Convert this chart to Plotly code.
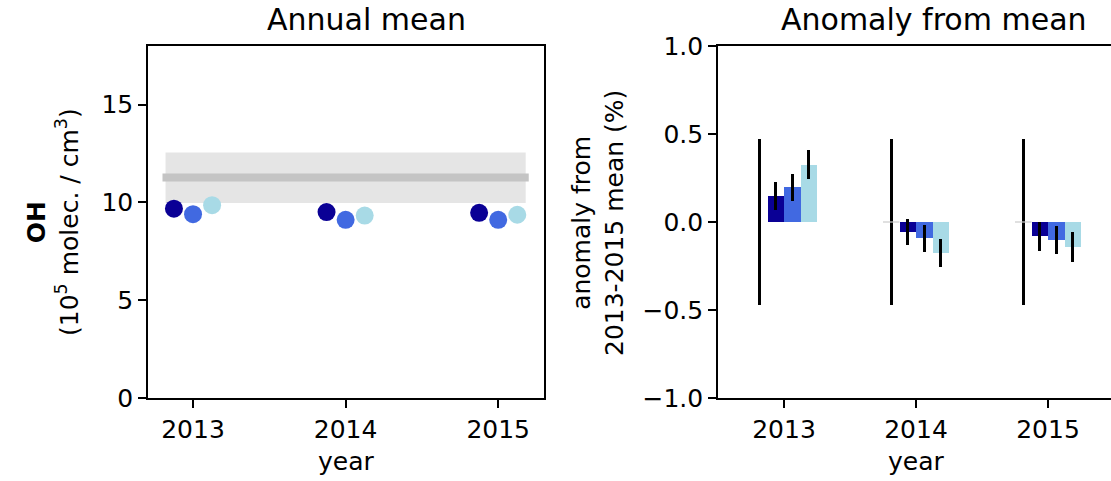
import plotly.graph_objects as go

# ---- data ----
years = [2013, 2014, 2015]
series_names = ["model A", "model B", "model C"]
series_colors = ["#0a0095", "#4169E1", "#A8DAE6"]

# annual mean OH (1e5 molec / cm3)
oh_a = [9.68, 9.51, 9.47]
oh_b = [9.40, 9.11, 9.11]
oh_c = [9.86, 9.33, 9.37]
oh_values = [oh_a, oh_b, oh_c]

# reference mean and its range
ref_mean = 11.28
ref_low = 9.97
ref_high = 12.56

# anomalies (%) and uncertainties
anom_a = [0.149, -0.059, -0.082]
anom_b = [0.197, -0.093, -0.100]
anom_c = [0.326, -0.176, -0.142]
anom_values = [anom_a, anom_b, anom_c]
err_a = [0.078, 0.074, 0.080]
err_b = [0.075, 0.076, 0.080]
err_c = [0.082, 0.082, 0.088]
err_values = [err_a, err_b, err_c]
mean_uncert = [0.47, 0.47, 0.47]
mean_anom = [0.0, 0.0, 0.0]

W, H = 1111, 481
FONT = "DejaVu Sans"

def px(x):
    return x / W

def py(y):
    return 1 - y / H

fig = go.Figure()

# ---- left panel ----
dot_offsets = [-0.125, 0.0, 0.125]
span = [years[0] - 0.18, years[-1] + 0.18]
line_span = [years[0] - 0.2, years[-1] + 0.2]
fig.add_trace(go.Scatter(x=span, y=[ref_low, ref_low], mode="lines",
                         line=dict(width=0, color="rgba(0,0,0,0)"),
                         showlegend=False, xaxis="x", yaxis="y", hoverinfo="skip"))
fig.add_trace(go.Scatter(x=span, y=[ref_high, ref_high], mode="lines",
                         line=dict(width=0, color="rgba(0,0,0,0)"),
                         fill="tonexty", fillcolor="#e5e5e5",
                         showlegend=False, xaxis="x", yaxis="y", hoverinfo="skip"))
fig.add_trace(go.Scatter(x=line_span, y=[ref_mean, ref_mean], mode="lines",
                         line=dict(width=8, color="#c4c4c4"),
                         showlegend=False, xaxis="x", yaxis="y"))
for vals, off, col, name in zip(oh_values, dot_offsets, series_colors, series_names):
    fig.add_trace(go.Scatter(x=[y + off for y in years], y=vals, mode="markers",
                             marker=dict(size=18, color=col, line=dict(width=0)),
                             name=name, showlegend=False, xaxis="x", yaxis="y"))

# ---- right panel ----
bw = 0.125
bar_offsets = [-0.0625, 0.0625, 0.1875]
mean_off = -0.1875
# zero-height mean bars drawn as thin gray lines (2014, 2015)
for yr in years[1:]:
    fig.add_trace(go.Scatter(x=[yr + mean_off - bw / 2, yr + mean_off + bw / 2],
                             y=[0, 0], mode="lines",
                             line=dict(width=1.2, color="#cccccc"),
                             showlegend=False, xaxis="x2", yaxis="y2"))
fig.add_trace(go.Bar(x=[y + mean_off for y in years], y=mean_anom, width=bw,
                     marker=dict(color="#cccccc", line=dict(width=0)),
                     error_y=dict(type="data", array=mean_uncert, visible=True,
                                  thickness=3.4, width=0, color="black"),
                     showlegend=False, xaxis="x2", yaxis="y2"))
for vals, errs, off, col, name in zip(anom_values, err_values, bar_offsets,
                                      series_colors, series_names):
    fig.add_trace(go.Bar(x=[y + off for y in years], y=vals, width=bw,
                         marker=dict(color=col, line=dict(width=0)),
                         error_y=dict(type="data", array=errs, visible=True,
                                      thickness=3.4, width=0, color="black"),
                         name=name, showlegend=False, xaxis="x2", yaxis="y2"))

# ---- layout ----
ydom = [py(398), py(46)]
axis_common = dict(showline=True, linecolor="black", linewidth=1.6,
                   ticks="outside", ticklen=8, tickwidth=1.6, tickcolor="black",
                   showgrid=False, zeroline=False, automargin=False,
                   tickfont=dict(family=FONT, size=25, color="black"))

right_end = 2012.5 + (W - 718) / 132.0

fig.update_layout(
    width=W, height=H,
    margin=dict(l=0, r=0, t=0, b=0),
    paper_bgcolor="white", plot_bgcolor="white",
    barmode="overlay", bargap=0,
    font=dict(family=FONT, size=25, color="black"),
    xaxis=dict(domain=[px(148), px(544)], range=[2012.705, 2015.30],
               tickvals=years, ticktext=[str(y) for y in years],
               mirror=True, anchor="y", **axis_common),
    yaxis=dict(domain=ydom, range=[0, 18], tickvals=[0, 5, 10, 15],
               mirror=True, anchor="x", **axis_common),
    xaxis2=dict(domain=[px(718), 1.0], range=[2012.5, right_end],
                tickvals=years, ticktext=[str(y) for y in years],
                mirror=True, anchor="y2", **axis_common),
    yaxis2=dict(domain=ydom, range=[-1, 1], tickvals=[-1, -0.5, 0, 0.5, 1],
                tickformat=".1f", mirror=False, anchor="x2", **axis_common),
)

ann = [
    dict(text="Annual mean", x=px(366.5), y=py(19), font=dict(size=30)),
    dict(text="Anomaly from mean", x=px(934), y=py(19), font=dict(size=30)),
    dict(text="year", x=px(346), y=py(461), font=dict(size=25)),
    dict(text="year", x=px(916), y=py(461), font=dict(size=25)),
    dict(text="<b>OH</b><br>(10<sup>5</sup> molec. / cm<sup>3</sup>)",
         x=px(53), y=py(222), textangle=-90, font=dict(size=25)),
    dict(text="anomaly from<br>2013-2015 mean (%)",
         x=px(598), y=py(223), textangle=-90, font=dict(size=25)),
]
for a in ann:
    a.update(xref="paper", yref="paper", showarrow=False,
             xanchor="center", yanchor="middle")
    a["font"] = dict(family=FONT, color="black", **a["font"])
fig.update_layout(annotations=ann)

fig.write_html("out.html")
